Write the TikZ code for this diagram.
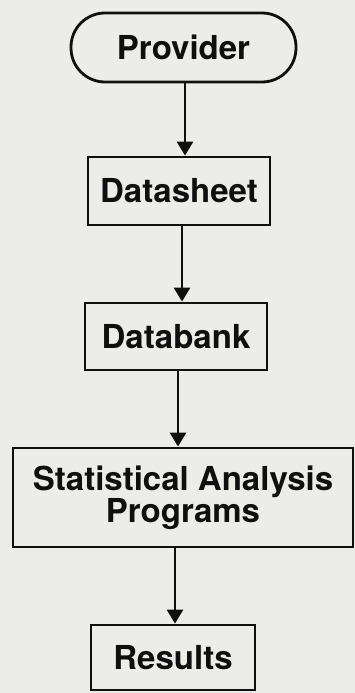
\documentclass[tikz,border=0pt]{standalone}
\usepackage{fontspec}
\setmainfont{TeX Gyre Heros}
\usetikzlibrary{arrows.meta}
\definecolor{paper}{RGB}{236,236,233}
\definecolor{ink}{RGB}{15,15,15}
\begin{document}
\begin{tikzpicture}[x=1pt,y=-1pt,
  box/.style={draw=ink,line width=2.8pt,rectangle,inner sep=0pt,align=center,
    font=\bfseries\fontsize{33}{32}\selectfont,text=ink},
  arr/.style={draw=ink,line width=2.8pt,-{Triangle[width=16pt,length=14pt]}}]
\fill[paper] (0,0) rectangle (355,693);
\useasboundingbox (0,0) rectangle (355,693);
\node[box,rounded corners=34pt,minimum width=225pt,minimum height=69pt] (prov) at (183.5,47.5) {Provider};
\node[box,minimum width=182pt,minimum height=68pt] (ds) at (179,191) {Datasheet};
\node[box,minimum width=182pt,minimum height=67pt] (db) at (176,336.5) {Databank};
\node[box,minimum width=340pt,minimum height=99pt] (sap) at (183,497.5) {Statistical Analysis\\Programs};
\node[box,minimum width=164pt,minimum height=65pt] (res) at (173,657.5) {Results};
\draw[arr] ([xshift=1.5pt]prov.south) -- ([xshift=1.5pt]prov.south |- ds.north);
\draw[arr] ([xshift=3pt]ds.south) -- ([xshift=3pt]ds.south |- db.north);
\draw[arr] ([xshift=2pt]db.south) -- ([xshift=2pt]db.south |- sap.north);
\draw[arr] ([xshift=-8pt]sap.south) -- ([xshift=-8pt]sap.south |- res.north);
\end{tikzpicture}
\end{document}
